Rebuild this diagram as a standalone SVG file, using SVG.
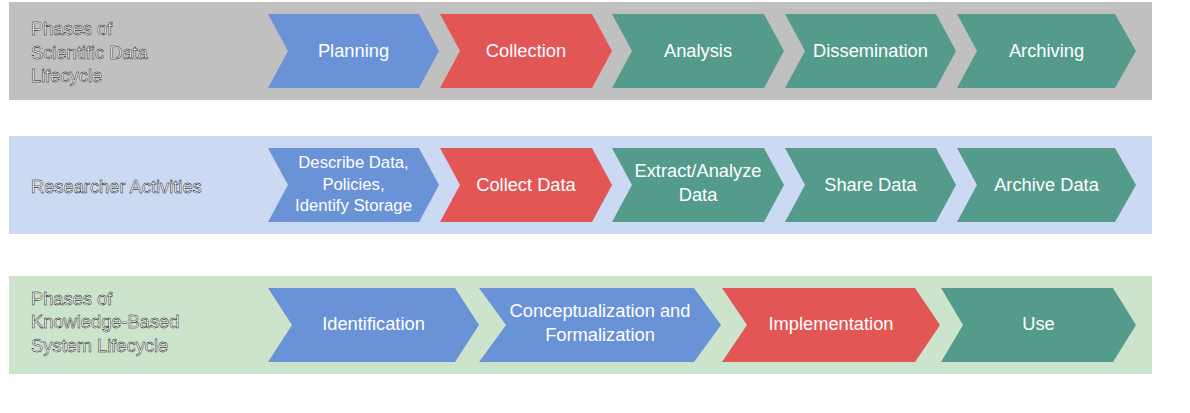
<svg xmlns="http://www.w3.org/2000/svg" width="1190" height="413" viewBox="0 0 1190 413">
<style>
.lbl{font-family:"Liberation Sans",Arial,sans-serif;font-size:18.3px;fill:#ffffff;stroke:#000000;stroke-width:0.45px}
.t{font-family:"Liberation Sans",Arial,sans-serif;font-size:18.3px;fill:#ffffff;text-anchor:middle}
.blue{fill:#6A92D7}
.red{fill:#E35656}
.teal{fill:#559B8C}
</style>
<rect width="1190" height="413" fill="#ffffff"/>
<g id="bands">
<rect id="band1" x="9" y="2" width="1143" height="98" fill="#C0C0C0"/>
<rect id="band2" x="9" y="136" width="1143" height="98" fill="#CBD9F2"/>
<rect id="band3" x="9" y="276" width="1143" height="98" fill="#CCE4CC"/>
</g>
<g id="row-labels">
<text class="lbl" x="31" y="34.5">Phases of</text>
<text class="lbl" x="31" y="58.5">Scientific Data</text>
<text class="lbl" x="31" y="82">Lifecycle</text>
<text class="lbl" x="31" y="192.5">Researcher Activities</text>
<text class="lbl" x="31" y="304.5">Phases of</text>
<text class="lbl" x="31" y="328">Knowledge-Based</text>
<text class="lbl" x="31" y="351.5">System Lifecycle</text>
</g>
<g id="connectors"></g>
<g id="planning"><path class="blue" d="M268,14 L419,14 L439,51 L419,88 L268,88 L288,51 Z"/><text class="t" x="353.5" y="56.5">Planning</text></g>
<g id="collection"><path class="red" d="M440,14 L592,14 L612,51 L592,88 L440,88 L460,51 Z"/><text class="t" x="526" y="56.5">Collection</text></g>
<g id="analysis"><path class="teal" d="M612,14 L764,14 L784,51 L764,88 L612,88 L632,51 Z"/><text class="t" x="698" y="56.5">Analysis</text></g>
<g id="dissemination"><path class="teal" d="M785,14 L936,14 L956,51 L936,88 L785,88 L805,51 Z"/><text class="t" x="870.5" y="56.5">Dissemination</text></g>
<g id="archiving"><path class="teal" d="M957,14 L1115,14 L1136,51 L1115,88 L957,88 L977,51 Z"/><text class="t" x="1046.5" y="56.5">Archiving</text></g>
<g id="describe"><path class="blue" d="M268,148 L419,148 L439,185 L419,222 L268,222 L288,185 Z"/><text class="t" style="font-size:16.7px" x="353.5" y="168">Describe Data,</text><text class="t" style="font-size:16.7px" x="353.5" y="189.7">Policies,</text><text class="t" style="font-size:16.7px" x="353.5" y="211.4">Identify Storage</text></g>
<g id="collect-data"><path class="red" d="M440,148 L592,148 L612,185 L592,222 L440,222 L460,185 Z"/><text class="t" x="526" y="190.5">Collect Data</text></g>
<g id="extract"><path class="teal" d="M612,148 L764,148 L784,185 L764,222 L612,222 L632,185 Z"/><text class="t" x="698" y="177">Extract/Analyze</text><text class="t" x="698" y="201">Data</text></g>
<g id="share"><path class="teal" d="M785,148 L936,148 L956,185 L936,222 L785,222 L805,185 Z"/><text class="t" x="870.5" y="190.5">Share Data</text></g>
<g id="archive-data"><path class="teal" d="M957,148 L1115,148 L1136,185 L1115,222 L957,222 L977,185 Z"/><text class="t" x="1046.5" y="190.5">Archive Data</text></g>
<g id="identification"><path class="blue" d="M268,288 L455,288 L479,325 L455,362 L268,362 L292,325 Z"/><text class="t" x="373.5" y="330">Identification</text></g>
<g id="conceptualization"><path class="blue" d="M479,288 L694,288 L721,325 L694,362 L479,362 L506,325 Z"/><text class="t" x="600" y="316.5">Conceptualization and</text><text class="t" x="600" y="340.5">Formalization</text></g>
<g id="implementation"><path class="red" d="M722,288 L915,288 L940,325 L915,362 L722,362 L747,325 Z"/><text class="t" x="831" y="330">Implementation</text></g>
<g id="use"><path class="teal" d="M941,288 L1113,288 L1136,325 L1113,362 L941,362 L963,325 Z"/><text class="t" x="1038.5" y="330">Use</text></g>
</svg>
